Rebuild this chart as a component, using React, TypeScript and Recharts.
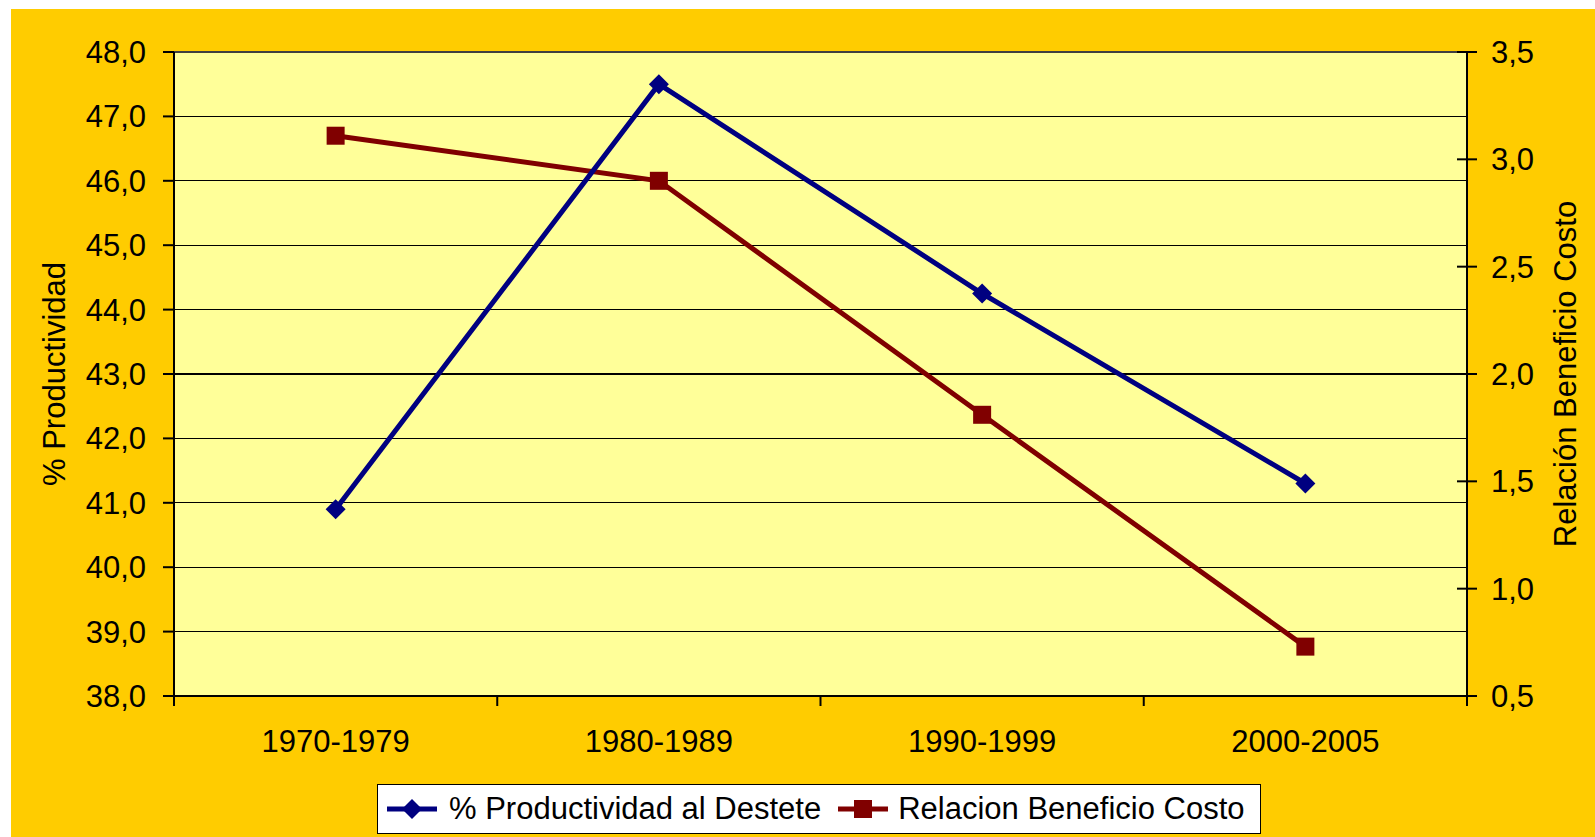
import React from 'react'
import { ComposedChart, Line, XAxis, YAxis, CartesianGrid, ReferenceLine, Legend } from 'recharts'

const periodos: string[] = ['1970-1979', '1980-1989', '1990-1999', '2000-2005']
const productividad: number[] = [40.9, 47.5, 44.25, 41.3]
const beneficioCosto: number[] = [3.11, 2.9, 1.81, 0.73]
const ticksIzq: number[] = [38, 39, 40, 41, 42, 43, 44, 45, 46, 47, 48]
const ticksDer: number[] = [0.5, 1.0, 1.5, 2.0, 2.5, 3.0, 3.5]

const AZUL = '#000080'
const ROJO = '#800000'
const FUENTE = 31
const GROSOR = 5

const data = periodos.map((periodo, i) => ({
    periodo,
    prod: productividad[i],
    rbc: beneficioCosto[i],
}))

const fmt = (v: number) => v.toFixed(1).replace('.', ',')

function Rombo(props: any) {
    const { cx, cy, index } = props
    if (cx == null || cy == null) return <g key={index} />
    const r = 10
    return (
        <polygon
            key={index}
            points={`${cx},${cy - r} ${cx + r},${cy} ${cx},${cy + r} ${cx - r},${cy}`}
            fill={AZUL}
        />
    )
}

function Cuadro(props: any) {
    const { cx, cy, index } = props
    if (cx == null || cy == null) return <g key={index} />
    const s = 9
    return <rect key={index} x={cx - s} y={cy - s} width={s * 2} height={s * 2} fill={ROJO} />
}

// tick de categorias: marcas en los bordes de cada banda, texto al centro
const MARGEN_X = 34
function TickCategoria(props: any) {
    const { x, y, payload, index, visibleTicksCount } = props
    const off = payload.offset ?? 0
    const y0 = y - MARGEN_X
    const marcas = [x - off]
    if (index === visibleTicksCount - 1) marcas.push(x + off)
    return (
        <g>
            {marcas.map((mx, i) => (
                <line key={i} x1={mx} x2={mx} y1={y0} y2={y0 + 10} stroke="#000" strokeWidth={2} />
            ))}
            <text x={x} y={y} dy="0.71em" textAnchor="middle" fill="#000" fontSize={FUENTE}>
                {payload.value}
            </text>
        </g>
    )
}

// tick derecho: la marca cruza el eje
function TickDerecho(props: any) {
    const { x, y, payload } = props
    return (
        <g>
            <line x1={x - 34} x2={x - 14} y1={y} y2={y} stroke="#000" strokeWidth={2} />
            <text x={x} y={y} dy="0.355em" textAnchor="start" fill="#000" fontSize={FUENTE}>
                {fmt(payload.value)}
            </text>
        </g>
    )
}

function IconoLinea({ color, forma }: { color: string; forma: 'rombo' | 'cuadro' }) {
    return (
        <svg width={50} height={20} style={{ display: 'block' }}>
            <line x1={0} x2={50} y1={10} y2={10} stroke={color} strokeWidth={GROSOR} />
            {forma === 'rombo' ? (
                <polygon points="25,0 35,10 25,20 15,10" fill={color} />
            ) : (
                <rect x={16} y={1} width={18} height={18} fill={color} />
            )}
        </svg>
    )
}

function Leyenda() {
    return (
        <div
            style={{
                width: 884,
                height: 50,
                boxSizing: 'border-box',
                border: '1px solid #000',
                background: '#fff',
                display: 'flex',
                alignItems: 'center',
                paddingLeft: 9,
                fontSize: FUENTE,
                color: '#000',
                whiteSpace: 'nowrap',
            }}
        >
            <IconoLinea color={AZUL} forma="rombo" />
            <span style={{ marginLeft: 12 }}>% Productividad al Destete</span>
            <span style={{ marginLeft: 17 }}>
                <IconoLinea color={ROJO} forma="cuadro" />
            </span>
            <span style={{ marginLeft: 10 }}>Relacion Beneficio Costo</span>
        </div>
    )
}

export default function App() {
    return (
        <>
            <style>{`body{margin:0;overflow:hidden}`}</style>
            <div
                style={{
                    position: 'absolute',
                    left: 11,
                    top: 9,
                    width: 1584,
                    height: 828,
                    background: '#FFCC00',
                    fontFamily: '"Liberation Sans", Arial, sans-serif',
                }}
            >
                <ComposedChart
                    width={1584}
                    height={828}
                    data={data}
                    margin={{ top: 43, right: 0, bottom: 3, left: 0 }}
                >
                    <CartesianGrid
                        yAxisId="izq"
                        vertical={false}
                        fill="#FFFF99"
                        fillOpacity={1}
                        stroke="#000"
                        strokeWidth={1.2}
                        shapeRendering="crispEdges"
                    />
                    <XAxis
                        xAxisId="cat"
                        dataKey="periodo"
                        scale="band"
                        axisLine={{ stroke: '#000', strokeWidth: 2 }}
                        tickLine={false}
                        tickSize={0}
                        tickMargin={MARGEN_X}
                        height={88}
                        interval={0}
                        tick={<TickCategoria />}
                    />
                    <YAxis
                        yAxisId="izq"
                        orientation="left"
                        domain={[38, 48]}
                        ticks={ticksIzq}
                        interval={0}
                        width={163}
                        tickFormatter={fmt}
                        tickSize={11}
                        tickMargin={17}
                        tick={{ fill: '#000', fontSize: FUENTE }}
                        axisLine={{ stroke: '#000', strokeWidth: 2 }}
                        tickLine={{ stroke: '#000', strokeWidth: 2 }}
                        label={{ value: '% Productividad', angle: -90, position: 'center', dx: -39, fill: '#000', fontSize: FUENTE }}
                    />
                    <YAxis
                        yAxisId="der"
                        orientation="right"
                        domain={[0.5, 3.5]}
                        ticks={ticksDer}
                        interval={0}
                        width={128}
                        tickSize={10}
                        tickMargin={14}
                        tickLine={false}
                        tick={<TickDerecho />}
                        axisLine={{ stroke: '#000', strokeWidth: 2 }}
                        label={{ value: 'Relación Beneficio Costo', angle: -90, position: 'center', dx: 34, fill: '#000', fontSize: FUENTE }}
                    />
                    <ReferenceLine yAxisId="izq" xAxisId="cat" y={48} stroke="#808080" strokeWidth={1.2} />
                    <Legend
                        verticalAlign="bottom"
                        height={50}
                        width={884}
                        wrapperStyle={{ left: 366, bottom: 3 }}
                        content={() => <Leyenda />}
                    />
                    <Line
                        xAxisId="cat"
                        yAxisId="der"
                        dataKey="rbc"
                        name="Relacion Beneficio Costo"
                        stroke={ROJO}
                        strokeWidth={GROSOR}
                        dot={Cuadro}
                        activeDot={false}
                        isAnimationActive={false}
                    />
                    <Line
                        xAxisId="cat"
                        yAxisId="izq"
                        dataKey="prod"
                        name="% Productividad al Destete"
                        stroke={AZUL}
                        strokeWidth={GROSOR}
                        dot={Rombo}
                        activeDot={false}
                        isAnimationActive={false}
                    />
                </ComposedChart>
            </div>
        </>
    )
}
